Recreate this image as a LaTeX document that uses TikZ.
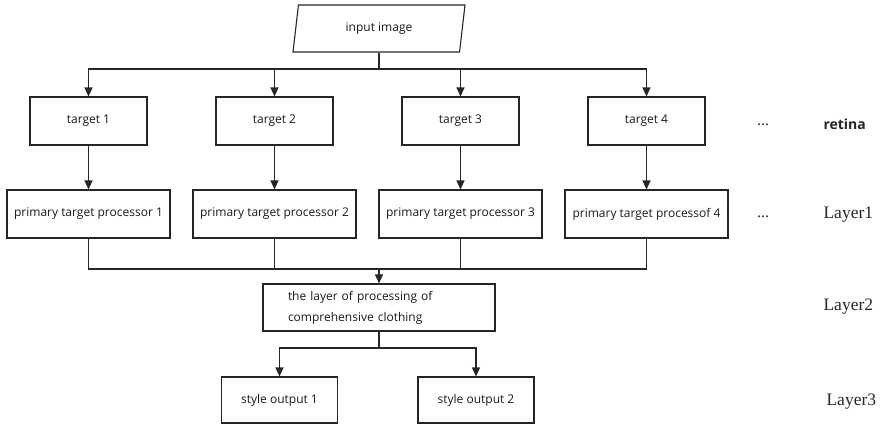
\documentclass[tikz,border=0pt]{standalone}
\usepackage{fontspec}
\setmainfont{Open Sans}
\newfontfamily\layerfont{Liberation Serif}
\usetikzlibrary{arrows.meta,shapes.geometric}

\tikzset{
  box/.style={draw=black!85, line width=1.1pt, minimum width=117pt, minimum height=48pt,
              inner sep=2pt, text=black!90, font=\fontsize{12}{14}\selectfont},
  procbox/.style={box, minimum width=163pt},
  outbox/.style={box, minimum width=116pt, minimum height=46pt},
  link/.style={draw=black!85, line width=1.2pt},
  arr/.style={link, -{Triangle[length=9pt,width=8pt]}},
  side/.style={anchor=west, text=black!85, font=\layerfont\fontsize{17.5}{20}\selectfont},
  dots/.style={text=black!85, font=\layerfont\fontsize{16}{18}\selectfont},
}

\begin{document}
\begin{tikzpicture}[x=1pt,y=-1pt]
                    \useasboundingbox (0,0) rectangle (884,427);

                    \node[box, trapezium, trapezium left angle=65, trapezium right angle=115,
                          trapezium stretches body, minimum width=172pt, minimum height=47pt,
                          inner sep=0pt] (input) at (379,28.5) {input image};

                    \node[box] (t1) at (88.5,121) {target 1};
                    \node[box] (t2) at (274.5,121) {target 2};
                    \node[box] (t3) at (460.5,121) {target 3};
                    \node[box] (t4) at (646.5,121) {target 4};

                    \node[procbox] (p1) at (88.5,214) {primary target processor 1};
                    \node[procbox] (p2) at (274.5,214) {primary target processor 2};
                    \node[procbox] (p3) at (460.5,214) {primary target processor 3};
                    \node[procbox] (p4) at (646.5,214) {primary target processof 4};

                    \node[box, minimum width=232pt, minimum height=47pt, align=left,
                          text width=182pt, inner xsep=25pt,
                          font=\fontsize{12}{21}\selectfont] (l2) at (379,307.5)
                         {the layer of processing of\\comprehensive clothing};

                    \node[outbox] (o1) at (279.5,400) {style output 1};
                    \node[outbox] (o2) at (476,400) {style output 2};

                    \node[dots] (dots1) at (763,125) {...};
                    \node[dots] (dots2) at (763,217) {...};
                    \node[side, font=\fontsize{14}{16}\selectfont\bfseries] (retina) at (820,124) {retina};
                    \node[side] (layer1) at (820,215) {Layer1};
                    \node[side] (layer2) at (820,307) {Layer2};
                    \node[side] (layer3) at (823,402) {Layer3};

                    \coordinate (fork) at (379,69);
                    \coordinate (join) at (379,269);
                    \coordinate (fork2) at (379,348);

                    \draw[link] (input.center |- input.bottom left corner) -- (fork);
                    \foreach \i in {1,...,4} {
                      \draw[arr] (fork) -| (t\i);
                      \draw[arr] (t\i) -- (p\i);
                      \draw[link] (p\i) |- (join);
                    }
                    \draw[arr] (join) -- (l2);
                    \draw[link] (l2) -- (fork2);
                    \draw[arr] (fork2) -| (o1);
                    \draw[arr] (fork2) -| (o2);
                \end{tikzpicture}
\end{document}
